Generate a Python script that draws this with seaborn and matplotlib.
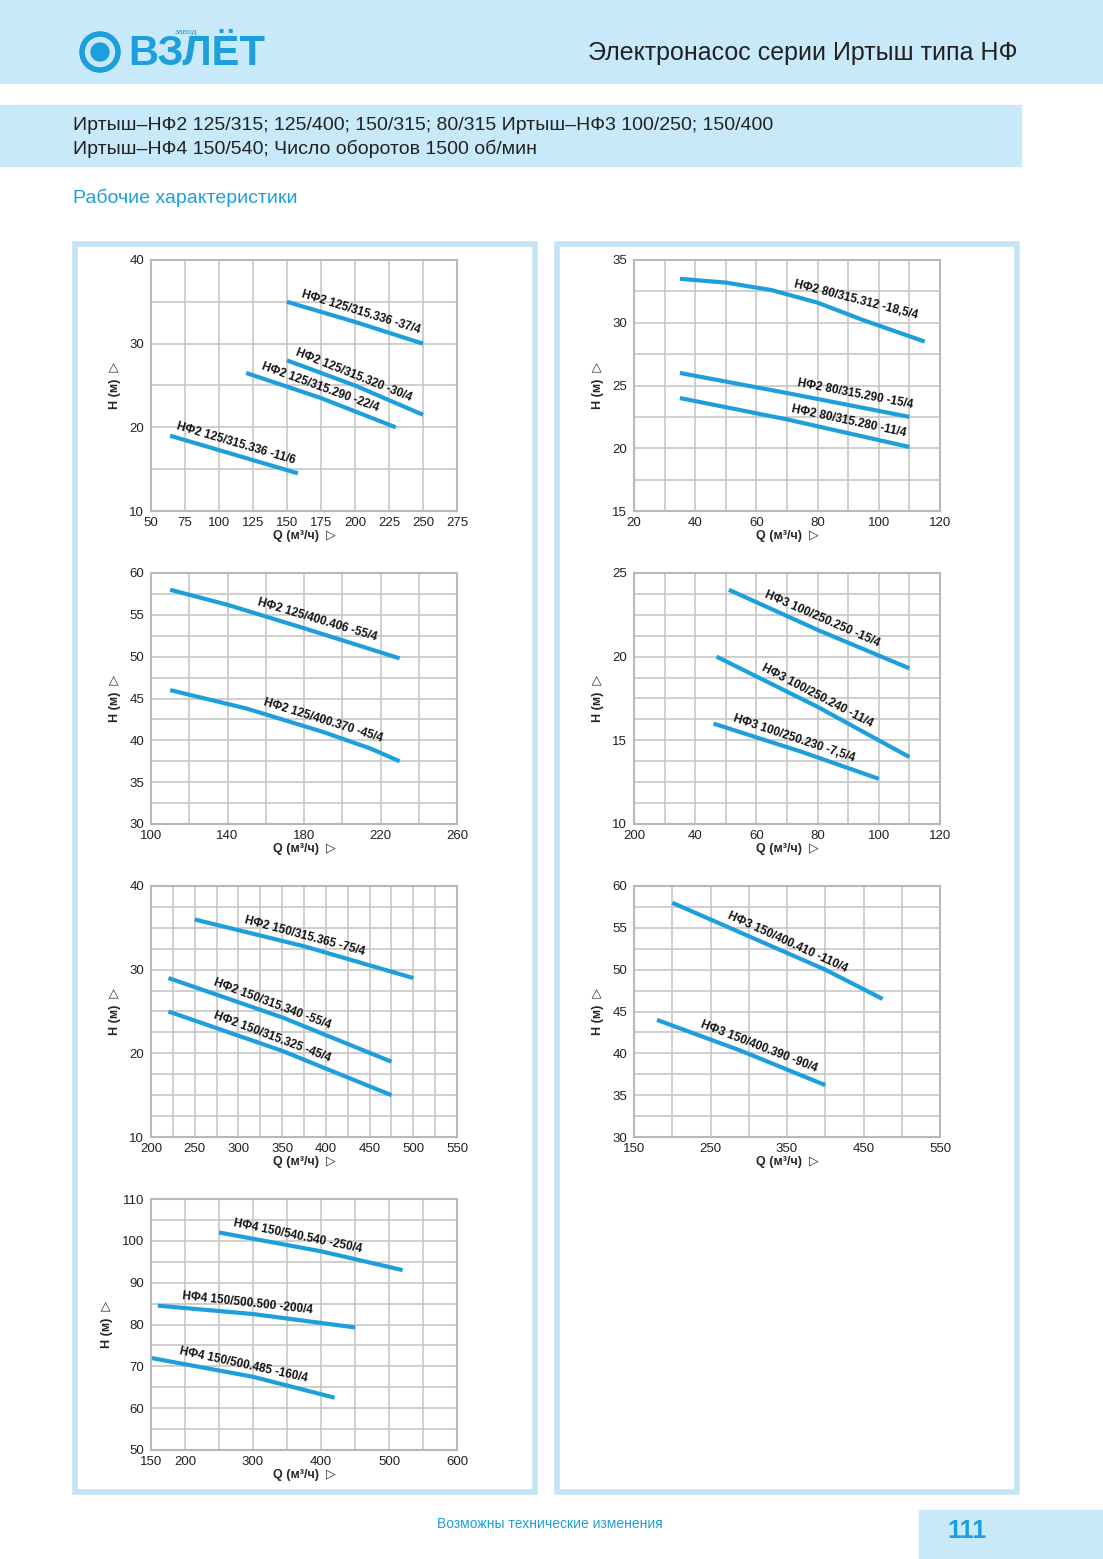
import numpy as np
import pandas as pd
import matplotlib.pyplot as plt
import seaborn as sns
from matplotlib.patches import Rectangle, Circle


# characteristic curves read from the catalogue page
# each panel: x range, y range, grid steps, labelled ticks and curves

plt.style.use('seaborn-v0_8-whitegrid')
plt.rcParams['font.family'] = ['Liberation Sans', 'DejaVu Sans']

BLUE = '#1c9fdc'
PALE = '#c8e9f9'

PANELS = [
    dict(pos=(151, 260), x=(50, 275, 25), y=(10, 40, 5),
         xlab={v: str(v) for v in range(50, 276, 25)}, ylab={10: '10', 20: '20', 30: '30', 40: '40'},
         curves={
             'НФ2 125/315.336 -37/4': ([150, 200, 250], [35, 32.6, 30], 160),
             'НФ2 125/315.320 -30/4': ([150, 200, 250], [28, 25, 21.5], 155),
             'НФ2 125/315.290 -22/4': ([120, 175, 230], [26.5, 23.5, 20], 130),
             'НФ2 125/315.336 -11/6': ([64, 110, 158], [19, 16.8, 14.5], 68)}),
    dict(pos=(634, 260), x=(20, 120, 10), y=(15, 35, 2.5),
         xlab={v: str(v) for v in range(20, 121, 20)}, ylab={v: str(v) for v in range(15, 36, 5)},
         curves={
             'НФ2 80/315.312 -18,5/4': ([35, 50, 65, 80, 95, 115], [33.5, 33.2, 32.6, 31.6, 30.2, 28.5], 72),
             'НФ2 80/315.290 -15/4': ([35, 70, 110], [26, 24.4, 22.5], 73),
             'НФ2 80/315.280 -11/4': ([35, 70, 110], [24, 22.3, 20.1], 71)}),
    dict(pos=(151, 573), x=(100, 260, 20), y=(30, 60, 2.5),
         xlab={v: str(v) for v in range(100, 261, 40)}, ylab={v: str(v) for v in range(30, 61, 5)},
         curves={
             'НФ2 125/400.406 -55/4': ([110, 140, 180, 230], [58, 56.2, 53.4, 49.8], 155),
             'НФ2 125/400.370 -45/4': ([110, 150, 190, 215, 230], [46, 43.8, 41, 39, 37.5], 158)}),
    dict(pos=(634, 573), x=(20, 120, 10), y=(10, 25, 1.25),
         xlab={20: '200', 40: '40', 60: '60', 80: '80', 100: '100', 120: '120'},
         ylab={10: '10', 15: '15', 20: '20', 25: '25'},
         curves={
             'НФ3 100/250.250 -15/4': ([51, 80, 110], [24, 21.6, 19.3], 62),
             'НФ3 100/250.240 -11/4': ([47, 80, 110], [20, 17, 14], 61),
             'НФ3 100/250.230 -7,5/4': ([46, 75, 100], [16, 14.3, 12.7], 52)}),
    dict(pos=(151, 886), x=(200, 550, 25), y=(10, 40, 2.5),
         xlab={v: str(v) for v in range(200, 551, 50)}, ylab={10: '10', 20: '20', 30: '30', 40: '40'},
         curves={
             'НФ2 150/315.365 -75/4': ([250, 375, 500], [36, 32.8, 29], 305),
             'НФ2 150/315.340 -55/4': ([220, 350, 475], [29, 24.3, 19], 270),
             'НФ2 150/315.325 -45/4': ([220, 350, 475], [25, 20.3, 15], 270)}),
    dict(pos=(634, 886), x=(150, 550, 50), y=(30, 60, 2.5),
         xlab={v: str(v) for v in range(150, 551, 100)}, ylab={v: str(v) for v in range(30, 61, 5)},
         curves={
             'НФ3 150/400.410 -110/4': ([200, 300, 400, 475], [58, 54, 50, 46.5], 270),
             'НФ3 150/400.390 -90/4': ([180, 290, 400], [44, 40.3, 36.2], 235)}),
    dict(pos=(151, 1199), x=(150, 600, 50), y=(50, 110, 5),
         xlab={150: '150', 200: '200', 300: '300', 400: '400', 500: '500', 600: '600'},
         ylab={v: str(v) for v in range(50, 111, 10)},
         curves={
             'НФ4 150/540.540 -250/4': ([250, 400, 520], [102, 97.5, 93], 270),
             'НФ4 150/500.500 -200/4': ([160, 300, 450], [84.5, 82.5, 79.3], 195),
             'НФ4 150/500.485 -160/4': ([150, 300, 420], [72, 67.5, 62.5], 190)}),
]


def draw_panel(fig, p, W, H):
    """One Q-H chart with its pump curves."""
    left, top = p['pos']
    ax = fig.add_axes([left / W, 1 - (top + 251) / H, 306 / W, 251 / H])
    x0, x1, dx = p['x']
    y0, y1, dy = p['y']

    rows = []
    for name, (qs, hs, _) in p['curves'].items():
        rows += [{'curve': name, 'Q': q, 'H': h} for q, h in zip(qs, hs)]
    df = pd.DataFrame(rows)
    sns.lineplot(data=df, x='Q', y='H', units='curve', estimator=None, color=BLUE,
                 lw=3, sort=False, ax=ax, solid_capstyle='butt')

    xt = np.arange(x0, x1 + dx / 2, dx)
    yt = np.arange(y0, y1 + dy / 2, dy)
    ax.set_xticks(xt)
    ax.set_xticklabels([p['xlab'].get(int(v) if float(v).is_integer() else v, '') for v in xt])
    ax.set_yticks(yt)
    ax.set_yticklabels([p['ylab'].get(int(v) if float(v).is_integer() else v, '') for v in yt])
    ax.set_xlim(x0, x1)
    ax.set_ylim(y0, y1)
    ax.tick_params(length=0, labelsize=9.5, colors='#222222')
    ax.tick_params(axis='x', pad=4)
    ax.tick_params(axis='y', pad=5)
    ax.grid(True, color='#c6c6c6', lw=1.2)
    for s in ax.spines.values():
        s.set_visible(True)
        s.set_color('#b8b8b8')
        s.set_linewidth(1.5)
    ax.set_xlabel('Q (м³/ч)  ▷', fontsize=9, fontweight='bold', labelpad=1)
    ax.set_ylabel('H (м)  ▷', fontsize=9, fontweight='bold', labelpad=6)

    # labels sit just above each curve, following its slope on screen
    for name, (qs, hs, xs) in p['curves'].items():
        ys = np.interp(xs, qs, hs)
        (ax_, ay_), (bx_, by_) = ax.transData.transform([(qs[0], hs[0]), (qs[-1], hs[-1])])
        ang = np.degrees(np.arctan2(by_ - ay_, bx_ - ax_))
        ax.annotate(name, (xs, ys), xytext=(0, 4), textcoords='offset points',
                    rotation=ang, rotation_mode='anchor',
                    fontsize=8.5, fontweight='bold', ha='left', va='bottom', color='#111111')


def main():
    W, H = 1103, 1559
    fig = plt.figure(figsize=(W / 100, H / 100), dpi=100)
    bg = fig.add_axes([0, 0, 1, 1])
    bg.set_xlim(0, W)
    bg.set_ylim(H, 0)
    bg.axis('off')

    # page furniture
    bg.add_patch(Rectangle((0, 0), W, 83, color=PALE))
    bg.add_patch(Rectangle((0, 105), 1021, 61, color=PALE))
    bg.add_patch(Rectangle((919, 1510), 184, 49, color=PALE))
    bg.add_patch(Rectangle((75, 244), 460, 1248, fill=False, ec='#c2e4f5', lw=4))
    bg.add_patch(Rectangle((557, 244), 460, 1248, fill=False, ec='#c2e4f5', lw=4))
    bg.add_patch(Circle((100, 52), 18, fill=False, ec=BLUE, lw=4))
    bg.add_patch(Circle((100, 52), 9, color=BLUE))
    bg.text(128, 54, 'ВЗЛЁТ', color=BLUE, fontsize=30, fontweight='bold', va='center')
    bg.text(175, 32, 'завод', color=BLUE, fontsize=6, va='center')
    bg.text(1018, 53, 'Электронасос серии Иртыш типа НФ', fontsize=18, ha='right', va='center', color='#222222')
    bg.text(73, 125, 'Иртыш–НФ2 125/315; 125/400; 150/315; 80/315 Иртыш–НФ3 100/250; 150/400',
            fontsize=14, va='center', color='#222222')
    bg.text(73, 149, 'Иртыш–НФ4 150/540; Число оборотов 1500 об/мин',
            fontsize=14, va='center', color='#222222')
    bg.text(73, 198, 'Рабочие характеристики', fontsize=14, va='center', color=BLUE)
    bg.text(550, 1524, 'Возможны технические изменения', fontsize=10, ha='center', va='center', color=BLUE)
    bg.text(967, 1531, '111', fontsize=18, fontweight='bold', ha='center', va='center', color=BLUE)

    for p in PANELS:
        draw_panel(fig, p, W, H)

    fig.savefig('out.png', dpi=100)


if __name__ == '__main__':
    main()
